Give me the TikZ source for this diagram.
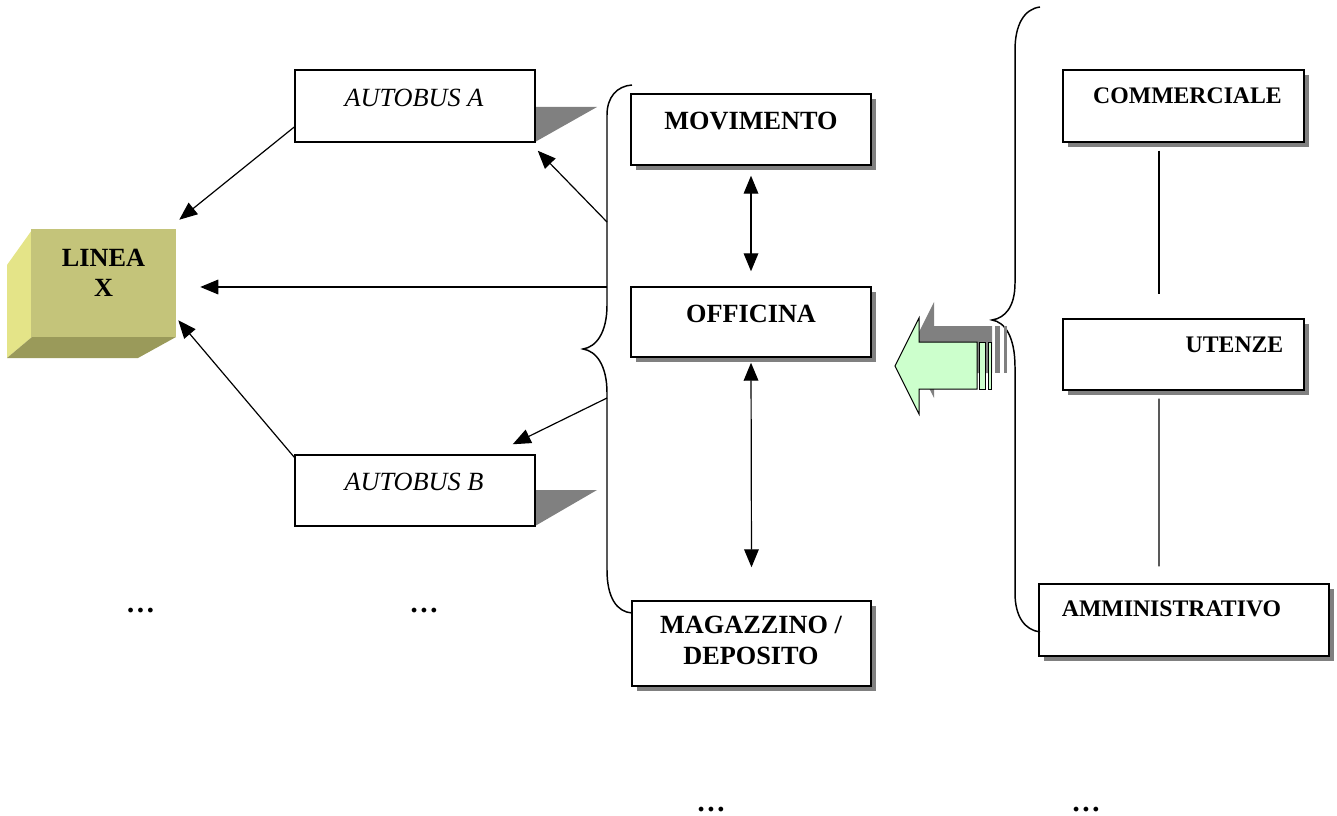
\documentclass[tikz,border=0pt]{standalone}
\usepackage{fontspec}
\setmainfont{Liberation Serif}
\usetikzlibrary{arrows.meta,shadows,calc}
\definecolor{shd}{HTML}{808080}
\definecolor{lfront}{HTML}{C4C47A}
\definecolor{lside}{HTML}{E4E488}
\definecolor{lbottom}{HTML}{9A9A5A}
\definecolor{agreen}{HTML}{CCFFCC}
\tikzset{
  box/.style={draw=black, line width=1.1pt, fill=white, inner sep=0pt},
  shbox/.style={box, general shadow={fill=shd, shadow xshift=3.75pt, shadow yshift=-3.75pt}},
  bigtxt/.style={font=\fontsize{19.7}{23.5}\selectfont\bfseries, anchor=base, inner sep=0pt},
  dottxt/.style={font=\fontsize{22}{26}\selectfont\bfseries, anchor=base, inner sep=0pt},
  ittxt/.style={font=\fontsize{19.7}{23.5}\selectfont\itshape, anchor=base, inner sep=0pt},
  smtxt/.style={font=\fontsize{17.8}{21}\selectfont\bfseries, anchor=base, inner sep=0pt},
  arr/.style={line width=0.9pt, -{Triangle[length=13.5pt,width=11pt]}},
  darr/.style={line width=0.9pt, {Triangle[length=13.5pt,width=11pt]}-{Triangle[length=13.5pt,width=11pt]}},
  ln/.style={line width=0.9pt},
  brace/.style={line width=1.1pt},
}
\begin{document}
\begin{tikzpicture}[x=0.75pt, y=-0.75pt]
\useasboundingbox (0,0) rectangle (1337,816);

% LINEA X 3D box
\fill[lside] (32,230) -- (7,265) -- (7,358) -- (32,337) -- cycle;
\fill[lbottom] (7,358) -- (138,358) -- (176,337) -- (32,337) -- cycle;
\node[fill=lfront, minimum width=108.75pt, minimum height=81pt, inner sep=0pt] (linea) at (103.5,283) {};
\node[bigtxt] (lineat) at (103.5,266.5) {LINEA};
\node[bigtxt] (lineax) at (103.5,296.5) {X};

% AUTOBUS boxes with perspective shadows
\fill[shd] (535,107) -- (597,107) -- (535,142) -- cycle;
\node[box, minimum width=180pt, minimum height=54pt] (autA) at (415,106) {};
\node[ittxt] (autAt) at (414,106.5) {AUTOBUS A};
\fill[shd] (535,490) -- (597,490) -- (535,526) -- cycle;
\node[box, minimum width=180pt, minimum height=53.25pt] (autB) at (415,490.5) {};
\node[ittxt] (autBt) at (414,490) {AUTOBUS B};

% middle column
\node[shbox, minimum width=180pt, minimum height=53.25pt] (mov) at (751,129.5) {};
\node[bigtxt] (movt) at (751,130) {MOVIMENTO};
\node[shbox, minimum width=180pt, minimum height=52.5pt] (off) at (751,322) {};
\node[bigtxt] (offt) at (751,323) {OFFICINA};
\node[shbox, minimum width=179.25pt, minimum height=63.75pt] (mag) at (751.5,643.5) {};
\node[bigtxt] (magt1) at (751,633) {MAGAZZINO /};
\node[bigtxt] (magt2) at (751,664) {DEPOSITO};

% right column
\node[shbox, minimum width=180.75pt, minimum height=54pt] (com) at (1183.5,106) {};
\node[smtxt] (comt) at (1187.5,104) {COMMERCIALE};
\node[shbox, minimum width=180.75pt, minimum height=53.25pt] (ute) at (1183.5,354.5) {};
\node[smtxt] (utet) at (1234.5,352) {UTENZE};
\node[shbox, minimum width=217.5pt, minimum height=54pt] (amm) at (1184,620) {};
\node[smtxt] (ammt) at (1171.5,616.5) {AMMINISTRATIVO};

% dots
\node[dottxt] (d1) at (140.5,612) {…};
\node[dottxt] (d2) at (424,612) {…};
\node[dottxt] (d3) at (711,811) {…};
\node[dottxt] (d4) at (1086,811) {…};

% braces
\draw[brace] (632,85) .. controls (617,86) and (607,97) .. (607,115) -- (607,305)
  .. controls (607,333) and (596,347) .. (583,349)
  .. controls (596,351) and (607,365) .. (607,393) -- (607,570)
  .. controls (607,598) and (617,612) .. (632,613);
\draw[brace] (1040,7) .. controls (1024,9) and (1015,25) .. (1015,50) -- (1015,283)
  .. controls (1015,307) and (1005,318) .. (992,320)
  .. controls (1005,322) and (1015,337) .. (1015,367) -- (1015,593)
  .. controls (1015,617) and (1025,630) .. (1040,632);

% brace origin points
\coordinate (bA) at (607,222);
\coordinate (bL) at (607,287);
\coordinate (bB) at (607,398);

% connectors
\draw[arr] ([yshift=-15.75pt]autA.west) -- ([shift={(2.25pt,6.75pt)}]linea.north east);
\draw[arr] (bA) -- ([shift={(1.5pt,-6pt)}]autA.south east);
\draw[arr] (bL) -- ([shift={(18pt,-3pt)}]linea.east);
\draw[arr] ([yshift=-2.25pt]autB.north west) -- ([shift={(1.5pt,12.75pt)}]linea.south east);
\draw[arr] (bB) -- ([shift={(-17.25pt,7.5pt)}]autB.north east);
\draw[darr] ([yshift=-7.5pt]mov.south) -- ([yshift=11.25pt]off.north);
\draw[darr] ([yshift=-3.75pt]off.south) -- ([yshift=24.75pt]mag.north);
\draw[ln] ([shift={(-18.4pt,-6pt)}]com.south) -- ([shift={(-18.4pt,18pt)}]ute.north);
\draw[ln] ([shift={(-18.4pt,-6pt)}]ute.south) -- ([shift={(-18.75pt,12.75pt)}]amm.north);

% green block arrow with shadow
\begin{scope}[shift={(15,-16)}]
  \fill[shd] (895,366) -- (919,318) -- (919,342) -- (977,342) -- (977,389) -- (919,389) -- (919,414) -- cycle;
  \fill[shd] (979.5,342) rectangle (985,389);
  \fill[shd] (988.5,342) rectangle (991.5,389);
\end{scope}
\draw[fill=agreen, line width=0.75pt] (895,366) -- (919,318) -- (919,342) -- (977,342) -- (977,389) -- (919,389) -- (919,414) -- cycle;
\draw[fill=agreen, line width=0.75pt] (979.5,342) rectangle (985,389);
\draw[fill=agreen, line width=0.75pt] (988.5,342) rectangle (991.5,389);
\end{tikzpicture}
\end{document}
